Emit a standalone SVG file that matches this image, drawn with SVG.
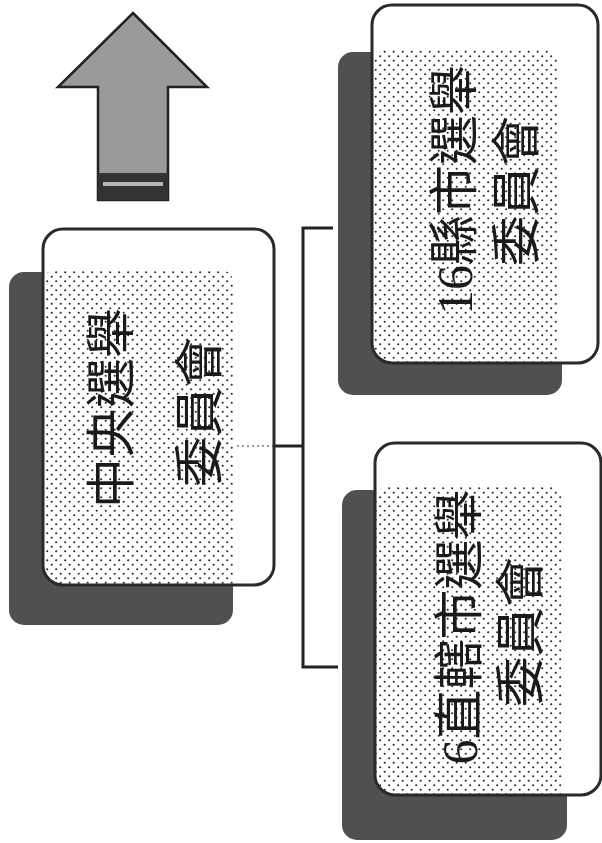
<svg xmlns="http://www.w3.org/2000/svg" width="602" height="843" viewBox="0 0 602 843">
<style>
.shadow{fill:#505050;}
.card{fill:none;stroke:#2a2a2a;stroke-width:3;}
.cardbg{fill:#ffffff;}
.dots{fill:url(#dots);}
.lbl{font-family:"Liberation Serif","Noto Sans CJK TC",serif;font-size:50px;fill:#1a1a1a;text-anchor:middle;dominant-baseline:central;}
.conn{fill:none;stroke:#222;stroke-width:3;}
</style>
<defs>
<pattern id="dots" width="9" height="9" patternUnits="userSpaceOnUse">
<rect width="9" height="9" fill="#ffffff"/>
<circle cx="2.2" cy="2.2" r="1.05" fill="#2a2a2a"/>
<circle cx="6.7" cy="6.7" r="1.05" fill="#2a2a2a"/>
</pattern>
<clipPath id="c1"><rect x="43" y="229" width="231" height="356" rx="20"/></clipPath>
<clipPath id="c2"><rect x="372" y="5" width="226" height="358" rx="20"/></clipPath>
<clipPath id="c3"><rect x="375" y="443" width="226" height="352" rx="20"/></clipPath>
</defs>
<rect width="602" height="843" fill="#ffffff"/>

<g id="arrow">
<polygon points="133,13 207,87 168,87 168,200 98,200 98,87 58,87" fill="#9a9a9a" stroke="#222" stroke-width="2.5" stroke-linejoin="miter"/>
<rect x="98" y="173" width="70" height="27" fill="#333"/>
<rect x="103" y="182" width="60" height="4" fill="#b5b5b5"/>
</g>

<g id="connectors">
<polyline class="conn" points="275,446 303,446"/>
<polyline class="conn" points="333,228 303,228 303,667 338,667"/>
</g>

<g id="node-central">
<rect class="shadow" x="9" y="272" width="224" height="353" rx="15"/>
<rect class="cardbg" x="43" y="229" width="231" height="356" rx="20"/>
<rect class="dots" x="43" y="270" width="190" height="330" rx="12" clip-path="url(#c1)"/>
<line x1="237" y1="446" x2="273" y2="446" stroke="#777" stroke-width="1.5" stroke-dasharray="2 3"/>
<rect class="card" x="43" y="229" width="231" height="356" rx="20"/>
<text class="lbl" transform="translate(112,408) rotate(-90)">中央選舉</text>
<text class="lbl" transform="translate(200,412) rotate(-90)">委員會</text>
</g>

<g id="node-county">
<rect class="shadow" x="338" y="52" width="224" height="343" rx="15"/>
<rect class="cardbg" x="372" y="5" width="226" height="358" rx="20"/>
<rect class="dots" x="372" y="50" width="186" height="330" rx="12" clip-path="url(#c2)"/>
<rect class="card" x="372" y="5" width="226" height="358" rx="20"/>
<text class="lbl" transform="translate(455,190) rotate(-90)">16縣市選舉</text>
<text class="lbl" transform="translate(517,191) rotate(-90)">委員會</text>
</g>

<g id="node-municipal">
<rect class="shadow" x="342" y="490" width="225" height="350" rx="15"/>
<rect class="cardbg" x="375" y="443" width="226" height="352" rx="20"/>
<rect class="dots" x="375" y="487" width="188" height="330" rx="12" clip-path="url(#c3)"/>
<rect class="card" x="375" y="443" width="226" height="352" rx="20"/>
<text class="lbl" transform="translate(460,627) rotate(-90)">6直轄市選舉</text>
<text class="lbl" transform="translate(521,632) rotate(-90)">委員會</text>
</g>
</svg>
